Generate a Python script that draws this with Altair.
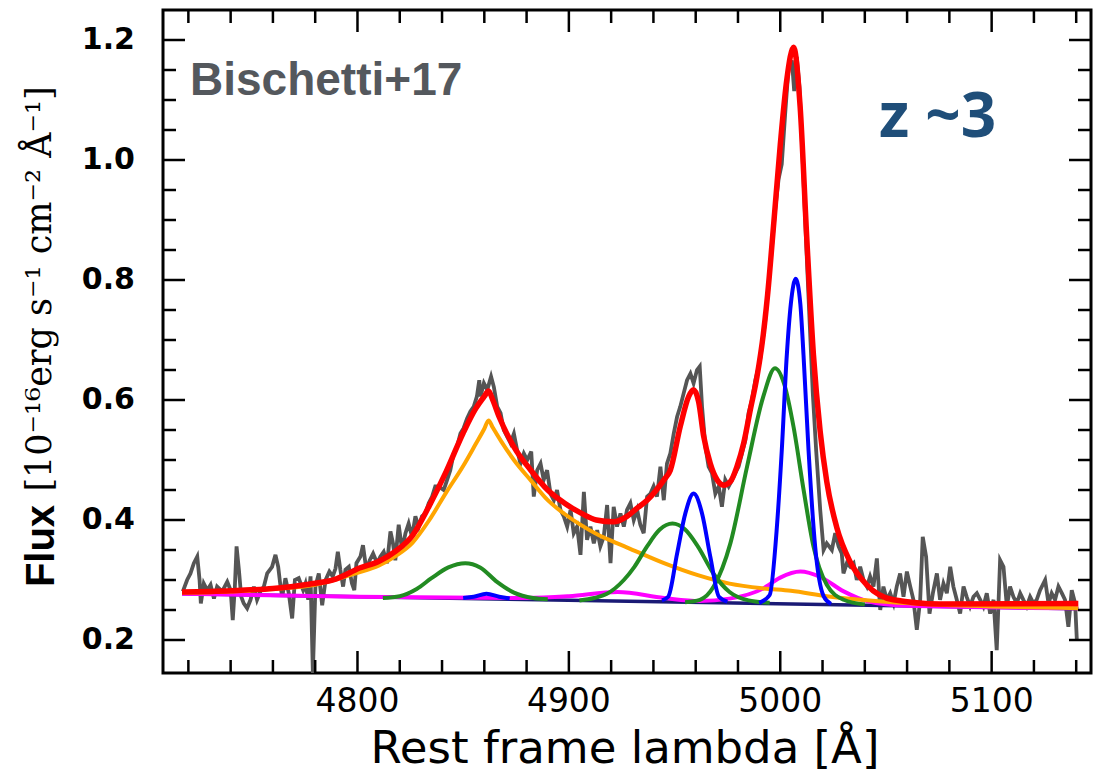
import altair as alt
import pandas as pd

# ---------------- data ----------------
gray_wave = [
    4717.4, 4719.4, 4721.0, 4722.6, 4724.2, 4725.3, 4725.9, 4727.3, 4728.9, 4730.5,
    4732.1, 4733.6, 4736.0, 4738.4, 4740.0, 4741.0, 4742.0, 4742.8, 4743.9, 4745.0,
    4746.2, 4747.8, 4749.4, 4751.0, 4752.5, 4754.1, 4755.7, 4757.3, 4759.6, 4761.2,
    4762.5, 4763.6, 4764.4, 4765.9, 4767.5, 4769.1, 4770.4, 4772.2, 4774.3, 4775.4,
    4776.7, 4777.8, 4778.9, 4780.1, 4781.7, 4783.3, 4784.9, 4786.7, 4788.3, 4789.6,
    4790.7, 4791.9, 4793.2, 4794.3, 4795.9, 4797.4, 4798.5, 4799.5, 4801.4, 4802.6,
    4804.2, 4805.8, 4807.4, 4809.3, 4810.8, 4812.4, 4814.0, 4815.6, 4816.8, 4817.9,
    4819.5, 4821.1, 4822.7, 4824.2, 4825.8, 4827.4, 4829.0, 4830.5, 4832.1, 4833.7,
    4835.3, 4836.8, 4838.4, 4840.8, 4842.4, 4843.9, 4845.5, 4847.1, 4848.7, 4850.2,
    4851.8, 4853.4, 4855.0, 4856.5, 4857.6, 4858.2, 4859.8, 4861.4, 4863.2, 4864.5,
    4866.1, 4867.7, 4869.2, 4870.8, 4872.4, 4874.0, 4875.5, 4877.1, 4878.7, 4880.3,
    4882.2, 4883.4, 4885.0, 4886.6, 4888.1, 4889.7, 4891.3, 4892.9, 4894.4, 4896.0,
    4897.6, 4899.2, 4900.8, 4902.3, 4903.9, 4905.5, 4907.1, 4908.6, 4910.2, 4911.8,
    4913.4, 4914.9, 4916.5, 4918.1, 4919.7, 4921.2, 4922.8, 4924.4, 4926.0, 4927.5,
    4929.1, 4930.7, 4932.3, 4933.8, 4935.4, 4937.0, 4938.6, 4940.1, 4941.7, 4943.3,
    4944.9, 4946.4, 4948.0, 4949.6, 4951.2, 4952.7, 4954.3, 4955.9, 4957.5, 4959.0,
    4960.6, 4961.9, 4963.0, 4964.6, 4966.1, 4967.7, 4969.3, 4970.9, 4972.4, 4974.0,
    4975.6, 4977.2, 4978.7, 4980.3, 4981.9, 4983.5, 4985.0, 4986.6, 4988.2, 4989.8,
    4990.5, 4992.9, 4995.2, 4997.6, 4999.2, 5000.7, 5002.3, 5003.9, 5005.5, 5006.6,
    5007.8, 5009.1, 5010.7, 5012.2, 5013.8, 5015.4, 5017.0, 5018.9, 5020.5, 5022.0,
    5024.4, 5026.0, 5027.6, 5029.1, 5029.9, 5031.5, 5033.1, 5034.7, 5036.2, 5037.8,
    5039.4, 5041.0, 5042.5, 5044.1, 5045.7, 5047.3, 5048.8, 5050.4, 5052.0, 5053.6,
    5055.1, 5056.7, 5058.3, 5059.9, 5061.5, 5063.0, 5064.6, 5066.2, 5067.4, 5069.0,
    5070.6, 5072.2, 5074.1, 5075.6, 5077.2, 5078.8, 5080.4, 5081.9, 5083.5, 5085.1,
    5086.7, 5088.2, 5089.8, 5091.4, 5093.0, 5094.6, 5096.1, 5097.7, 5099.3, 5100.9,
    5102.4, 5104.0, 5105.6, 5107.2, 5108.7, 5110.3, 5111.9, 5113.5, 5115.0, 5116.6,
    5118.2, 5119.8, 5121.3, 5122.9, 5125.3, 5126.9, 5128.4, 5130.0, 5131.6, 5133.2,
    5134.7, 5136.3, 5137.9, 5139.5, 5140.3,
]
gray_flux = [
    0.281, 0.300, 0.311, 0.328, 0.339, 0.300, 0.261, 0.294, 0.283, 0.292,
    0.269, 0.289, 0.281, 0.297, 0.283, 0.233, 0.289, 0.356, 0.317, 0.272,
    0.261, 0.253, 0.267, 0.289, 0.267, 0.281, 0.289, 0.311, 0.322, 0.342,
    0.322, 0.289, 0.272, 0.303, 0.278, 0.236, 0.300, 0.303, 0.283, 0.294,
    0.267, 0.306, 0.145, 0.289, 0.311, 0.258, 0.300, 0.314, 0.306, 0.319,
    0.347, 0.317, 0.289, 0.317, 0.322, 0.294, 0.283, 0.328, 0.339, 0.358,
    0.317, 0.333, 0.344, 0.328, 0.339, 0.347, 0.328, 0.381, 0.361, 0.333,
    0.392, 0.350, 0.378, 0.394, 0.372, 0.406, 0.389, 0.406, 0.411, 0.428,
    0.439, 0.456, 0.456, 0.450, 0.467, 0.483, 0.511, 0.522, 0.544, 0.553,
    0.569, 0.581, 0.589, 0.606, 0.633, 0.606, 0.628, 0.617, 0.639, 0.622,
    0.589, 0.578, 0.550, 0.539, 0.528, 0.544, 0.517, 0.494, 0.511, 0.500,
    0.514, 0.439, 0.483, 0.494, 0.467, 0.483, 0.444, 0.433, 0.450, 0.417,
    0.406, 0.389, 0.417, 0.378, 0.389, 0.342, 0.447, 0.367, 0.389, 0.361,
    0.383, 0.356, 0.372, 0.425, 0.328, 0.422, 0.389, 0.411, 0.389, 0.417,
    0.428, 0.400, 0.417, 0.392, 0.378, 0.439, 0.444, 0.456, 0.439, 0.489,
    0.433, 0.494, 0.511, 0.544, 0.572, 0.589, 0.611, 0.633, 0.644, 0.628,
    0.650, 0.656, 0.589, 0.522, 0.489, 0.478, 0.444, 0.456, 0.422, 0.467,
    0.456, 0.467, 0.478, 0.489, 0.511, 0.533, 0.578, 0.600, 0.633, 0.656,
    0.668, 0.732, 0.821, 0.917, 0.968, 0.993, 1.076, 1.153, 1.166, 1.115,
    1.172, 1.121, 0.993, 0.866, 0.738, 0.611, 0.515, 0.417, 0.350, 0.361,
    0.350, 0.378, 0.356, 0.344, 0.311, 0.328, 0.322, 0.328, 0.300, 0.322,
    0.300, 0.289, 0.306, 0.289, 0.336, 0.250, 0.289, 0.267, 0.278, 0.261,
    0.289, 0.311, 0.272, 0.314, 0.289, 0.267, 0.217, 0.267, 0.372, 0.339,
    0.244, 0.278, 0.311, 0.267, 0.294, 0.278, 0.322, 0.289, 0.267, 0.244,
    0.289, 0.272, 0.256, 0.272, 0.278, 0.267, 0.256, 0.278, 0.244, 0.267,
    0.183, 0.333, 0.322, 0.256, 0.289, 0.272, 0.261, 0.278, 0.267, 0.256,
    0.272, 0.261, 0.267, 0.283, 0.300, 0.261, 0.278, 0.267, 0.289, 0.278,
    0.267, 0.222, 0.283, 0.261, 0.200,
]

navy_wave = [4717, 5141]
navy_flux = [0.277, 0.252]

orange_wave = [4717, 4740, 4760, 4780, 4800, 4810, 4818, 4826, 4834, 4842, 4850, 4856,
               4860, 4862, 4864, 4868, 4874, 4882, 4890, 4898, 4906, 4914, 4921, 4929,
               4945, 4961, 4976, 4992, 5005, 5022, 5053, 5090, 5141]
orange_flux = [0.279, 0.281, 0.285, 0.292, 0.312, 0.324, 0.340, 0.362, 0.400, 0.446, 0.490, 0.527,
               0.552, 0.566, 0.554, 0.531, 0.500, 0.466, 0.433, 0.410, 0.391, 0.375, 0.364, 0.352,
               0.328, 0.308, 0.294, 0.286, 0.282, 0.273, 0.263, 0.257, 0.253]

red_wave = [4717, 4740, 4760, 4777, 4790, 4801, 4810, 4818, 4826, 4834, 4842, 4850, 4856,
            4860, 4862, 4864, 4867, 4874, 4882, 4890, 4898, 4906, 4913, 4921, 4927.5, 4932,
            4937, 4945, 4948, 4952.7, 4956.7, 4959, 4961.4, 4963.8, 4966.9, 4970.1, 4973.2,
            4976.4, 4979.5, 4982.7, 4985.8, 4989, 4992, 4994, 4997, 5000, 5003.1, 5006.3,
            5009.4, 5012.6, 5015.7, 5018.9, 5022, 5026.7, 5033.1, 5040.9, 5053.5, 5075.6, 5141]
red_flux = [0.280, 0.282, 0.286, 0.293, 0.302, 0.320, 0.331, 0.348, 0.374, 0.424, 0.481, 0.545, 0.586,
            0.606, 0.615, 0.600, 0.572, 0.522, 0.483, 0.450, 0.428, 0.411, 0.400, 0.397, 0.406, 0.419,
            0.433, 0.467, 0.483, 0.556, 0.606, 0.617, 0.597, 0.539, 0.494, 0.467, 0.458,
            0.464, 0.489, 0.528, 0.583, 0.639, 0.710, 0.775, 0.898, 1.025, 1.134, 1.188,
            1.089, 0.866, 0.675, 0.547, 0.464, 0.388, 0.330, 0.292, 0.267, 0.260, 0.261]

green_hb_wave = [4812, 4820, 4828, 4835, 4843, 4851, 4858, 4866, 4874, 4883, 4890]
green_hb_flux = [0.270, 0.273, 0.285, 0.303, 0.321, 0.328, 0.321, 0.297, 0.279, 0.270, 0.268]
green_4959_wave = [4905, 4912, 4918, 4926, 4931, 4937, 4943, 4949, 4955, 4961, 4968.5, 4976, 4985, 4995]
green_4959_flux = [0.266, 0.270, 0.277, 0.300, 0.322, 0.356, 0.384, 0.394, 0.384, 0.356, 0.310, 0.280, 0.266, 0.262]
green_5007_wave = [4955, 4962, 4968.5, 4976.4, 4984.3, 4992, 4997.5, 5002, 5006.3, 5011, 5015.7, 5022, 5030, 5040]
green_5007_flux = [0.263, 0.267, 0.289, 0.361, 0.489, 0.606, 0.653, 0.625, 0.555, 0.451, 0.356, 0.292, 0.267, 0.259]

blue_hb_wave = [4850, 4855, 4861, 4867, 4872]
blue_hb_flux = [0.270, 0.272, 0.277, 0.272, 0.269]
blue_4959_wave = [4944, 4947, 4951.2, 4955.1, 4959, 4963, 4966.9, 4971, 4975]
blue_4959_flux = [0.266, 0.272, 0.344, 0.411, 0.444, 0.411, 0.339, 0.272, 0.264]
blue_5007_wave = [4990, 4995, 4998.4, 5000.7, 5003.1, 5005, 5007.3, 5009.5, 5011, 5013.4, 5016.5, 5020.5, 5024]
blue_5007_flux = [0.262, 0.275, 0.388, 0.515, 0.675, 0.760, 0.802, 0.760, 0.675, 0.515, 0.356, 0.273, 0.260]

magenta_wave = [4717, 4800, 4880, 4900, 4923, 4945, 4962, 4976, 4992, 5000, 5009.5, 5019, 5030, 5041, 5060, 5141]
magenta_flux = [0.277, 0.272, 0.270, 0.273, 0.280, 0.270, 0.265, 0.269, 0.286, 0.304, 0.314, 0.305, 0.281, 0.265, 0.257, 0.253]

x_major = [4800, 4900, 5000, 5100]
x_minor = [4720, 4740, 4760, 4780, 4820, 4840, 4860, 4880, 4920, 4940, 4960, 4980,
           5020, 5040, 5060, 5080, 5120, 5140]
y_major = [0.2, 0.4, 0.6, 0.8, 1.0, 1.2]
y_minor = [0.25, 0.3, 0.35, 0.45, 0.5, 0.55, 0.65, 0.7, 0.75, 0.85, 0.9, 0.95, 1.05, 1.1, 1.15]

x_title = "Rest frame lambda [Å]"
y_title_word = "Flux"
y_title_units = "[10⁻¹⁶erg s⁻¹ cm⁻² Å⁻¹]"
label_left = "Bischetti+17"
label_right = "z ~3"

# ---------------- chart ----------------
W, H = 928, 663
xs = alt.Scale(domain=[4708, 5147], nice=False, zero=False)
ys = alt.Scale(domain=[0.145, 1.25], nice=False, zero=False)


def curve(waves, fluxes, color, width, interp="monotone"):
    df = pd.DataFrame({"wave": waves, "flux": fluxes})
    return alt.Chart(df).mark_line(color=color, strokeWidth=width, interpolate=interp,
                                   clip=True).encode(
        x=alt.X("wave:Q", scale=xs, axis=None),
        y=alt.Y("flux:Q", scale=ys, axis=None),
    )


layers = [curve(gray_wave, gray_flux, "#555555", 3.8, interp="linear"),
          curve(navy_wave, navy_flux, "#1a1a75", 3.5, interp="linear"),
          curve(magenta_wave, magenta_flux, "#ff00ff", 4),
          curve(orange_wave, orange_flux, "#ffa500", 4),
          curve(green_hb_wave, green_hb_flux, "#228b22", 4),
          curve(green_4959_wave, green_4959_flux, "#228b22", 4),
          curve(green_5007_wave, green_5007_flux, "#228b22", 4),
          curve(blue_hb_wave, blue_hb_flux, "#0000ff", 4),
          curve(blue_4959_wave, blue_4959_flux, "#0000ff", 4),
          curve(blue_5007_wave, blue_5007_flux, "#0000ff", 4),
          curve(red_wave, red_flux, "#ff0000", 5.5)]


# inward ticks on all four sides
def xticks(vals, length):
    df = pd.DataFrame({"v": vals})
    bottom = alt.Chart(df).mark_rule(color="black", strokeWidth=2.5).encode(
        x=alt.X("v:Q", scale=xs, axis=None), y=alt.value(H - length), y2=alt.value(H))
    top = alt.Chart(df).mark_rule(color="black", strokeWidth=2.5).encode(
        x=alt.X("v:Q", scale=xs, axis=None), y=alt.value(0), y2=alt.value(length))
    return [bottom, top]


def yticks(vals, length):
    df = pd.DataFrame({"v": vals})
    left = alt.Chart(df).mark_rule(color="black", strokeWidth=2.5).encode(
        y=alt.Y("v:Q", scale=ys, axis=None), x=alt.value(0), x2=alt.value(length))
    right = alt.Chart(df).mark_rule(color="black", strokeWidth=2.5).encode(
        y=alt.Y("v:Q", scale=ys, axis=None), x=alt.value(W - length), x2=alt.value(W))
    return [left, right]


layers += xticks(x_major, 22) + xticks(x_minor, 13) + yticks(y_major, 22) + yticks(y_minor, 13)

# tick labels, placed through the scales
xlab = alt.Chart(pd.DataFrame({"v": x_major})).mark_text(
    font="DejaVu Sans", fontSize=33, color="black", align="center", baseline="alphabetic").encode(
    x=alt.X("v:Q", scale=xs, axis=None), y=alt.value(H + 39), text=alt.Text("v:Q", format="d"))
ylab = alt.Chart(pd.DataFrame({"v": y_major})).mark_text(
    font="DejaVu Sans", fontSize=30, fontWeight="bold", color="black", align="right",
    baseline="middle").encode(
    y=alt.Y("v:Q", scale=ys, axis=None), x=alt.value(-28), text=alt.Text("v:Q", format=".1f"))
layers += [xlab, ylab]


def label(text, x, y, font, size, color, weight="normal", angle=0, align="left",
          baseline="alphabetic"):
    df = pd.DataFrame({"t": [text]})
    kw = dict(font=font, fontSize=size, color=color, fontWeight=weight, align=align,
              baseline=baseline)
    if angle:
        kw["angle"] = angle
    return alt.Chart(df).mark_text(**kw).encode(text="t:N", x=alt.value(x), y=alt.value(y))


layers += [
    label(label_left, 27, 85, "Liberation Sans", 46, "#54585d", weight="bold"),
    label(label_right, 716, 127, "Open Sans", 62, "#1f4e79", weight="bold"),
    label(y_title_word, -121, 536, "Liberation Sans", 40, "black", weight="bold", angle=270,
          align="center", baseline="middle"),
    label(y_title_units, -123, 279, "DejaVu Serif", 35, "black", angle=270,
          align="center", baseline="middle"),
    label(x_title, 462, 753, "DejaVu Sans", 45, "black", align="center"),
]

chart = alt.layer(*layers).properties(
    width=W, height=H,
    autosize=alt.AutoSizeParams(type="none"),
    padding={"left": 163, "top": 10, "right": 8, "bottom": 108},
).configure_view(stroke="black", strokeWidth=3)

chart.save("out.html", embed_options={"renderer": "svg", "actions": False})
